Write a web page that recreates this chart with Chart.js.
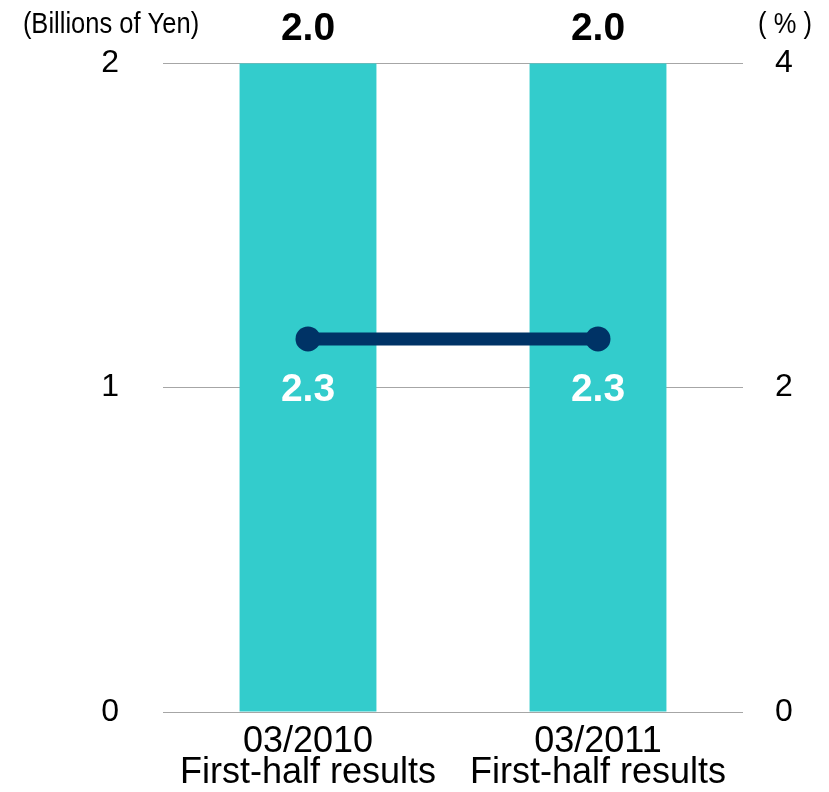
<!DOCTYPE html>
<html>
<head>
<meta charset="utf-8">
<script src="https://cdn.jsdelivr.net/npm/chart.js@4"></script>
<style>
html,body{margin:0;padding:0;background:#fff;}
#wrap{width:829px;height:792px;position:relative;}
</style>
</head>
<body>
<div id="wrap"><canvas id="c" width="829" height="792"></canvas></div>
<script>
const categories = [["03/2010","First-half results"],["03/2011","First-half results"]];
const barValues = [2.0, 2.0];      // Billions of Yen (left axis)
const lineValues = [2.3, 2.3];     // % (right axis)
const leftTicks = [0, 1, 2];
const rightTicks = [0, 2, 4];
const leftTitle = "(Billions of Yen)";
const rightTitle = "( % )";

const FONT = '"Liberation Sans", Arial, sans-serif';

function narrowText(ctx, text, x, y, size, sx) {
  ctx.save();
  ctx.font = size + 'px ' + FONT;
  ctx.translate(x, y);
  ctx.scale(sx, 1);
  ctx.fillText(text, 0, 0);
  ctx.restore();
}

const labelPlugin = {
  id: 'labels',
  afterDatasetsDraw(chart) {
    const ctx = chart.ctx;
    ctx.save();
    ctx.textAlign = 'center';
    ctx.textBaseline = 'middle';
    const mb = chart.getDatasetMeta(0);
    mb.data.forEach((el, i) => {
      ctx.font = 'bold 39px ' + FONT;
      ctx.fillStyle = '#000';
      ctx.fillText(barValues[i].toFixed(1), el.x, el.y - 34);
    });
    const ml = chart.getDatasetMeta(1);
    ml.data.forEach((el, i) => {
      ctx.font = 'bold 39px ' + FONT;
      ctx.fillStyle = '#fff';
      ctx.fillText(lineValues[i].toFixed(1), el.x, el.y + 51);
    });
    ctx.fillStyle = '#000';
    narrowText(ctx, leftTitle, 111, 25, 30, 0.85);
    narrowText(ctx, rightTitle, 785, 25, 30, 0.85);
    ctx.restore();
  }
};

new Chart(document.getElementById('c'), {
  data: {
    labels: categories,
    datasets: [
      {
        type: 'bar',
        data: barValues,
        yAxisID: 'y',
        backgroundColor: '#33CCCC',
        categoryPercentage: 1.0,
        barPercentage: 0.472,
        order: 1
      },
      {
        type: 'line',
        data: lineValues,
        yAxisID: 'y1',
        borderColor: '#003366',
        backgroundColor: '#003366',
        borderWidth: 13,
        pointRadius: 12.5,
        pointHoverRadius: 12.5,
        pointBackgroundColor: '#003366',
        pointBorderWidth: 0,
        order: 0
      }
    ]
  },
  options: {
    responsive: false,
    animation: false,
    events: [],
    layout: { padding: { top: 61, left: 0, right: 0, bottom: 0 } },
    plugins: { legend: { display: false }, tooltip: { enabled: false } },
    scales: {
      x: {
        grid: { display: false, drawTicks: false },
        border: { display: false },
        ticks: {
          color: '#000',
          font: { family: FONT, size: 36, lineHeight: 0.86 },
          padding: 15,
          autoSkip: false,
          maxRotation: 0
        },
        afterFit(s) { s.height = 80; }
      },
      y: {
        position: 'left',
        min: 0, max: 2,
        afterBuildTicks(s) { s.ticks = leftTicks.map(v => ({ value: v })); },
        grid: { color: '#a6a6a6', lineWidth: 1, drawTicks: false },
        border: { display: false },
        ticks: {
          color: '#000',
          font: { family: FONT, size: 32 },
          padding: 44
        },
        afterFit(s) { s.width = 163; }
      },
      y1: {
        position: 'right',
        min: 0, max: 4,
        afterBuildTicks(s) { s.ticks = rightTicks.map(v => ({ value: v })); },
        grid: { display: false, drawTicks: false },
        border: { display: false },
        ticks: {
          color: '#000',
          font: { family: FONT, size: 32 },
          padding: 32
        },
        afterFit(s) { s.width = 86; }
      }
    }
  },
  plugins: [labelPlugin]
});
</script>
</body>
</html>
